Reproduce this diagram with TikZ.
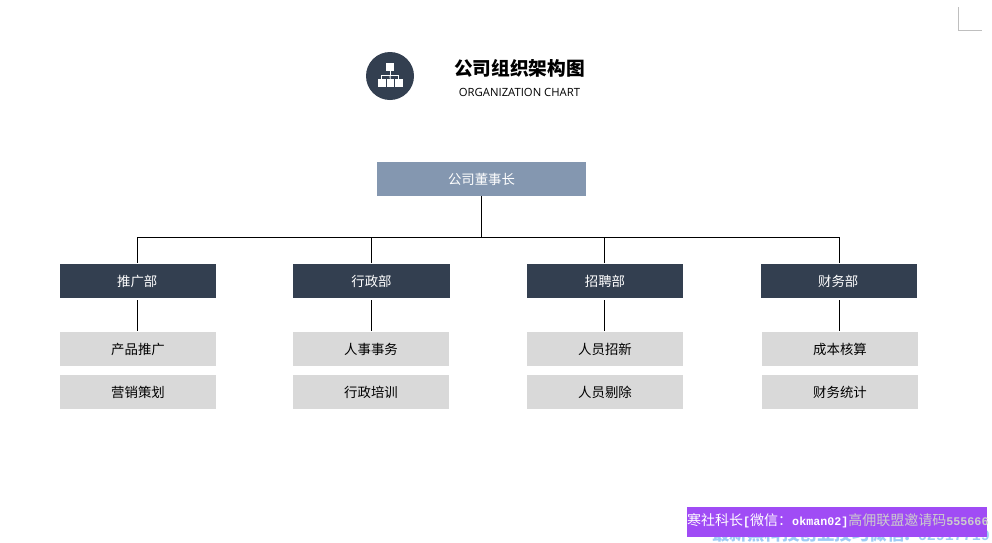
\documentclass[tikz,border=0pt]{standalone}
\usepackage{fontspec}
\setmainfont{Noto Sans CJK SC}
\newfontfamily\latinfont{Open Sans}
\newfontfamily\wmfont{Noto Sans CJK SC}
\newfontfamily\wmlatin{Liberation Mono}
\usetikzlibrary{calc}
\definecolor{navy}{HTML}{333F50}
\definecolor{steel}{HTML}{8497B0}
\definecolor{lightgrey}{HTML}{D9D9D9}
\definecolor{wmpurple}{HTML}{A04CF5}
\definecolor{wmblue}{HTML}{9CCBF5}
\tikzset{
  x=1pt,y=-1pt,
  boxbase/.style={anchor=north west,inner sep=0pt,outer sep=0pt,minimum height=34pt,font=\fontsize{13.4pt}{16pt}\selectfont},
  bossbox/.style={boxbase,fill=steel,text=white,minimum width=209pt},
  deptbox/.style={boxbase,fill=navy,text=white,minimum width=156pt},
  subbox/.style={boxbase,fill=lightgrey,text=black,minimum width=156pt},
  link/.style={draw=black,line width=0.9pt},
  iconpart/.style={fill=white,draw=none,inner sep=0pt,minimum width=7.4pt,minimum height=7.8pt,anchor=center},
  iconline/.style={draw=white,line width=0.9pt},
}
\begin{document}
\begin{tikzpicture}
\useasboundingbox (0,0) rectangle (992,542);
\fill[white] (0,0) rectangle (992,542);
% corner mark
\coordinate (ca) at (958.5,7);
\coordinate (cb) at (958.5,30.5);
\coordinate (cc) at (982,30.5);
\draw[draw=black!25,line width=0.9pt] (ca) -- (cb) -- (cc);
% header
\node[circle,fill=navy,minimum size=48pt,inner sep=0pt] (icon) at (390,76) {};
\node[iconpart] (it) at (390,67) {};
\node[iconpart] (il) at (381.8,83.3) {};
\node[iconpart] (im) at (390.3,83.3) {};
\node[iconpart] (ir) at (398.8,83.3) {};
\coordinate (ij) at (390,75.7);
\draw[iconline] (it.south) -- (ij);
\draw[iconline] (il.north) |- (ij) -| (ir.north);
\draw[iconline] (ij) -- (im.north);
\node[font=\fontsize{18.7pt}{22pt}\selectfont\bfseries,text=black,inner sep=0pt] (title) at (519.5,68) {公司组织架构图};
\node[font=\latinfont\fontsize{11.3pt}{13pt}\selectfont,text=black,inner sep=0pt] (subtitle) at (519.5,92) {ORGANIZATION CHART};
% boxes
\node[bossbox] (boss) at (377,162) {公司董事长};
\node[deptbox,text width=156pt,align=center] (d1) at (60,264) {\hspace*{-1.5pt}推广部};
\node[deptbox,minimum width=157pt] (d2) at (293,264) {行政部};
\node[deptbox] (d3) at (527,264) {招聘部};
\node[deptbox,text width=156pt,align=center] (d4) at (761,264) {\hspace*{-1.5pt}财务部};
\node[subbox] (s1a) at (60,332) {产品推广};
\node[subbox] (s1b) at (60,375) {营销策划};
\node[subbox] (s2a) at (293,332) {人事事务};
\node[subbox] (s2b) at (293,375) {行政培训};
\node[subbox] (s3a) at (527,332) {人员招新};
\node[subbox] (s3b) at (527,375) {人员剔除};
\node[subbox] (s4a) at (762,332) {成本核算};
\node[subbox] (s4b) at (762,375) {财务统计};
% connector columns and bus
\coordinate (bus) at (481.5,237);
\coordinate (c1) at ($(d1.north)+(-0.5,-1)$);
\coordinate (c2) at ($(d2.north)+(0,-1)$);
\coordinate (c3) at ($(d3.north)+(-0.5,-1)$);
\coordinate (c4) at ($(d4.north)+(0.5,-1)$);
% connectors
\draw[link] (boss.south -| bus) -- (bus);
\draw[link] (c1) |- (bus);
\draw[link] (c4) |- (bus);
\draw[link] (c2) -- (c2 |- bus);
\draw[link] (c3) -- (c3 |- bus);
\draw[link] ($(c1 |- d1.south)+(0,2)$) -- ($(c1 |- s1a.north)+(0,-1)$);
\draw[link] ($(c2 |- d2.south)+(0,2)$) -- ($(c2 |- s2a.north)+(0,-1)$);
\draw[link] ($(c3 |- d3.south)+(0,2)$) -- ($(c3 |- s3a.north)+(0,-1)$);
\draw[link] ($(c4 |- d4.south)+(0,2)$) -- ($(c4 |- s4a.north)+(0,-1)$);
% watermark
\begin{scope}
\clip (0,0) rectangle (992,542);
\node[anchor=west,inner sep=0pt,font=\wmfont\fontsize{17.5pt}{20pt}\selectfont\bfseries,text=wmblue] (wmb) at (712,534) {最新黑科技创业技巧微信:\hspace{7pt}{\wmlatin\fontsize{15pt}{18pt}\selectfont\bfseries 62917719}};
\end{scope}
\fill[wmpurple] (687,507) rectangle (987,537);
\node[anchor=west,inner sep=0pt,text=white,font=\fontsize{14pt}{16pt}\selectfont] (wmt) at (687,521) {寒社科长{\wmlatin\fontsize{11.7pt}{16pt}\selectfont\bfseries[}微信：{\wmlatin\fontsize{11.7pt}{16pt}\selectfont\bfseries okman02]}\textcolor{black!20}{高佣联盟邀请码{\wmlatin\fontsize{11.7pt}{16pt}\selectfont\bfseries 555666}}};
\end{tikzpicture}
\end{document}
